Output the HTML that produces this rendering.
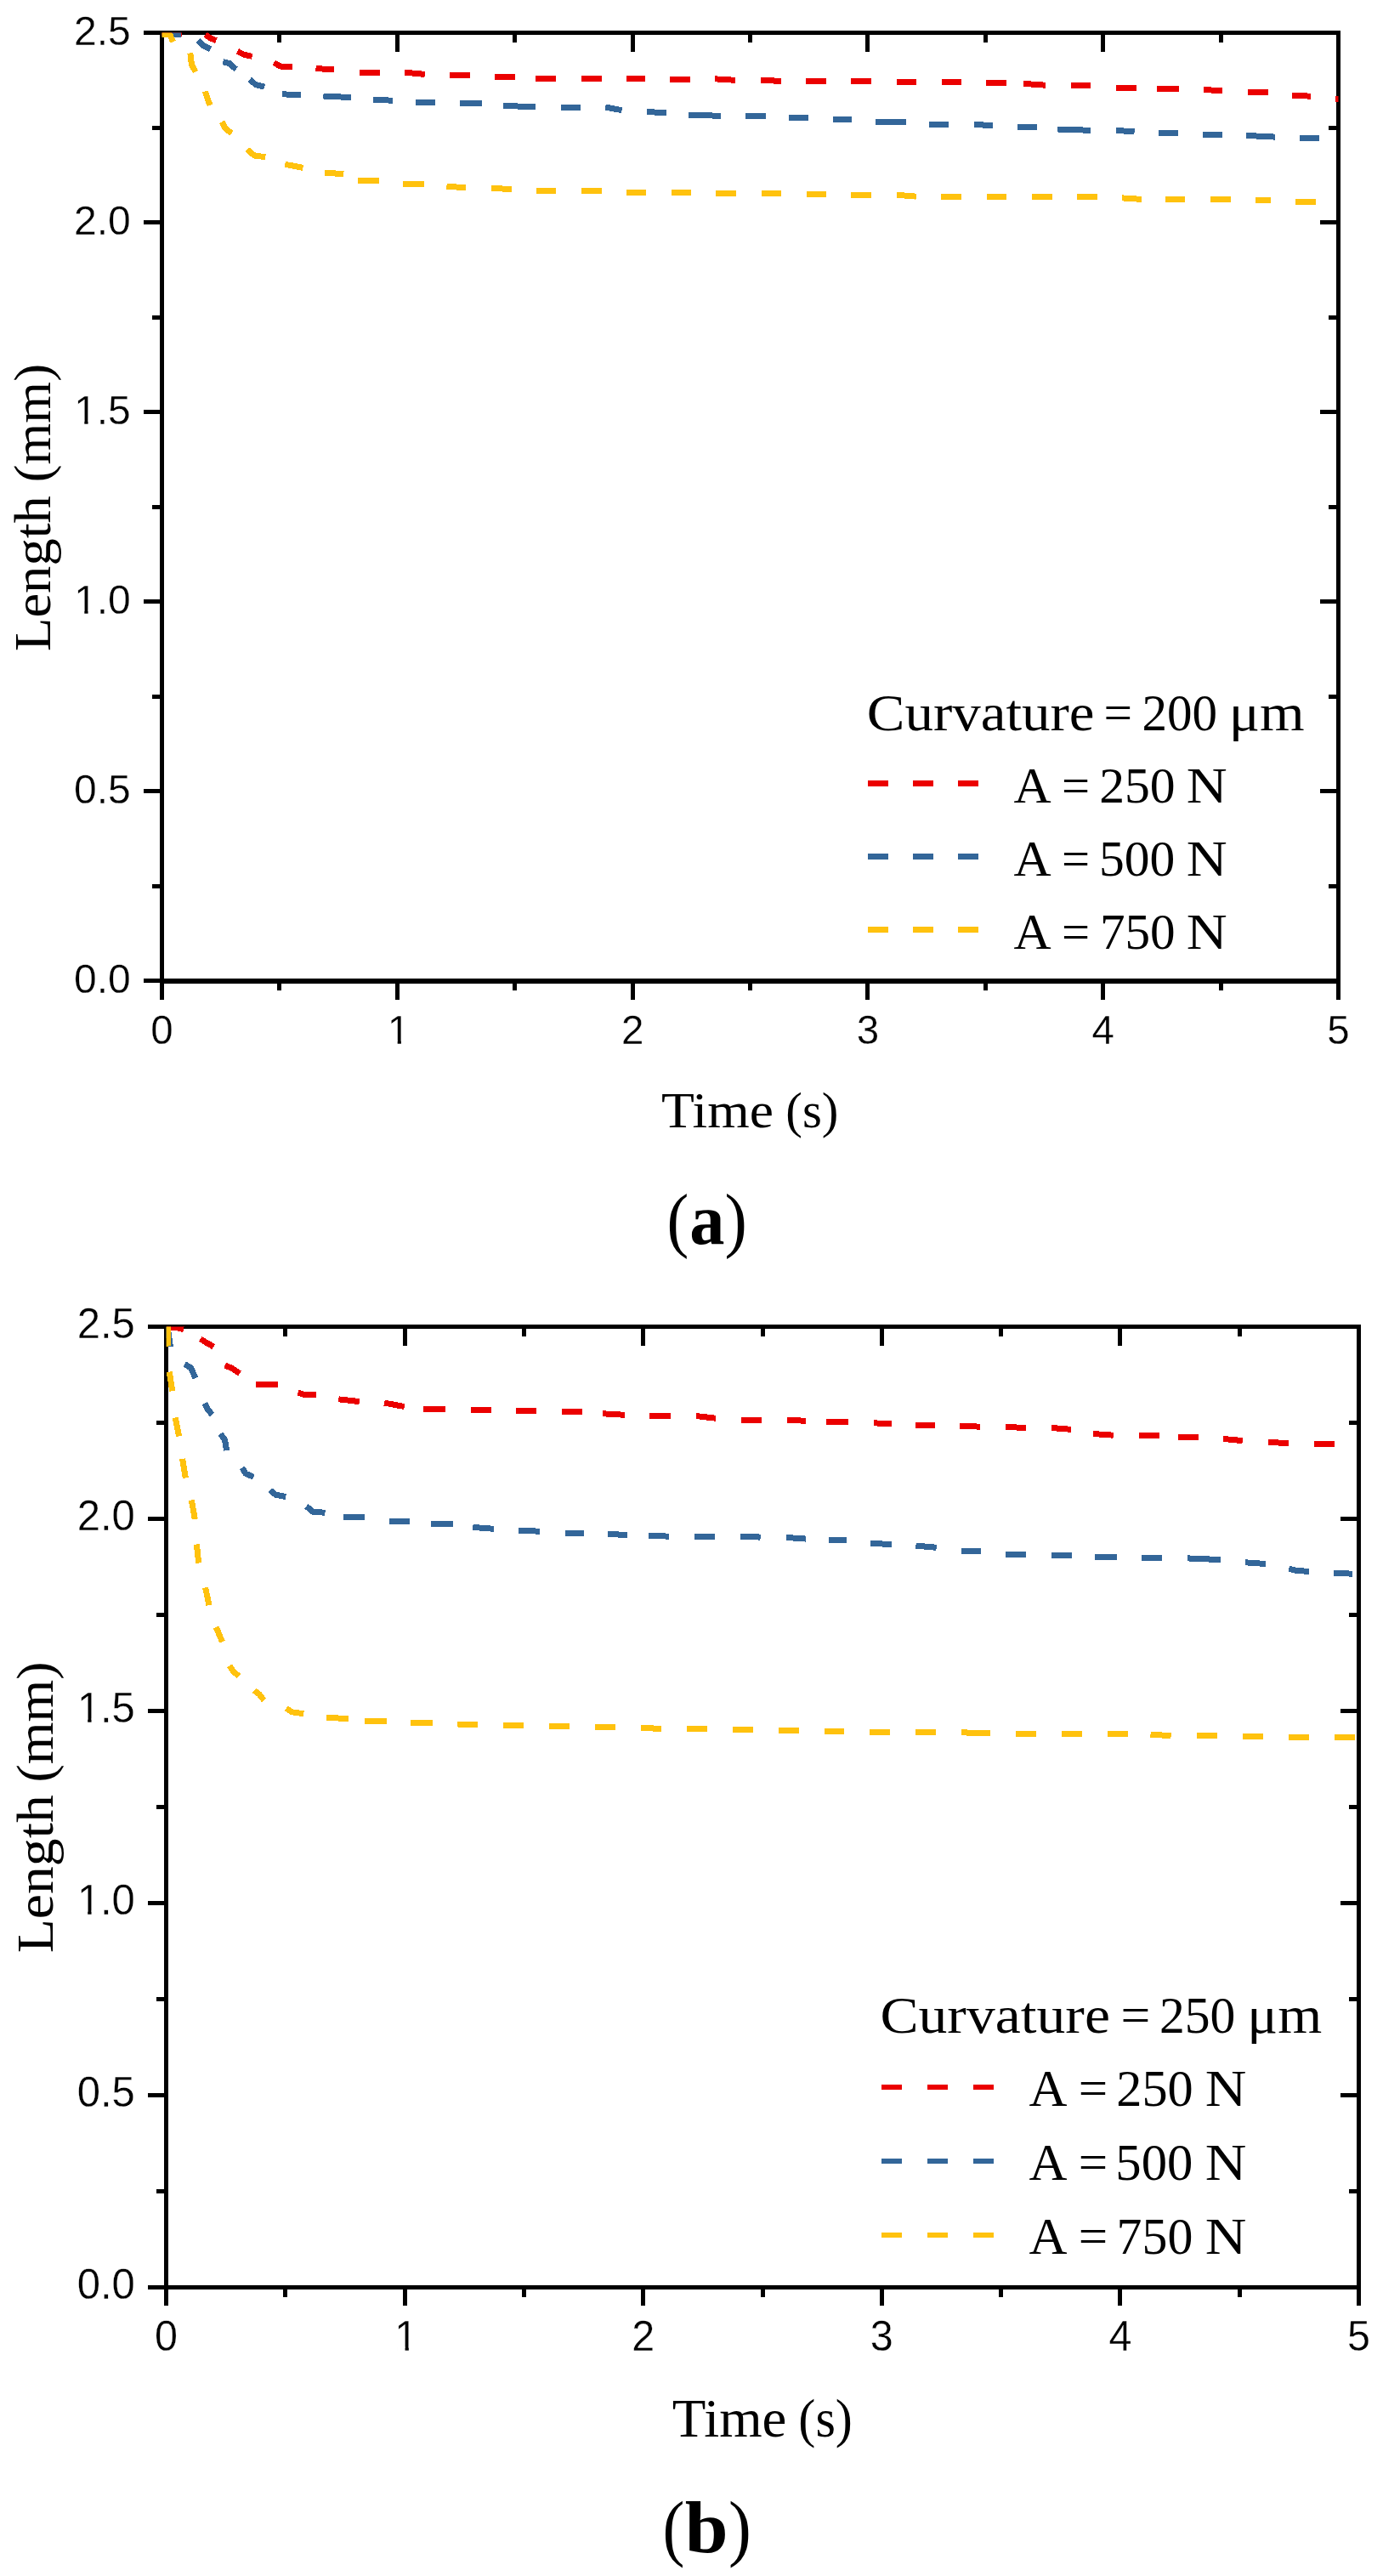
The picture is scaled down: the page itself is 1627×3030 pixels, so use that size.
<!DOCTYPE html>
<html><head><meta charset="utf-8"><title>Length vs Time</title>
<style>html,body{margin:0;padding:0;background:#fff;overflow:hidden;} svg{display:block;}</style>
</head><body>
<svg width="1627" height="3030" viewBox="0 0 1627 3030">
<rect width="100%" height="100%" fill="#fff"/>
<g shape-rendering="crispEdges"><path d="M168.5 1153.5 L190.5 1153.5 M1552.5 1153.5 L1574.5 1153.5 M179 1042 L190.5 1042 M1563 1042 L1574.5 1042 M168.5 930.5 L190.5 930.5 M1552.5 930.5 L1574.5 930.5 M179 819 L190.5 819 M1563 819 L1574.5 819 M168.5 707.5 L190.5 707.5 M1552.5 707.5 L1574.5 707.5 M179 596 L190.5 596 M1563 596 L1574.5 596 M168.5 484.5 L190.5 484.5 M1552.5 484.5 L1574.5 484.5 M179 373 L190.5 373 M1563 373 L1574.5 373 M168.5 261.5 L190.5 261.5 M1552.5 261.5 L1574.5 261.5 M179 150 L190.5 150 M1563 150 L1574.5 150 M168.5 38.5 L190.5 38.5 M1552.5 38.5 L1574.5 38.5 M190.5 1153.5 L190.5 1175.5 M190.5 38.5 L190.5 60.5 M328.9 1153.5 L328.9 1165 M328.9 38.5 L328.9 50 M467.3 1153.5 L467.3 1175.5 M467.3 38.5 L467.3 60.5 M605.7 1153.5 L605.7 1165 M605.7 38.5 L605.7 50 M744.1 1153.5 L744.1 1175.5 M744.1 38.5 L744.1 60.5 M882.5 1153.5 L882.5 1165 M882.5 38.5 L882.5 50 M1020.9 1153.5 L1020.9 1175.5 M1020.9 38.5 L1020.9 60.5 M1159.3 1153.5 L1159.3 1165 M1159.3 38.5 L1159.3 50 M1297.7 1153.5 L1297.7 1175.5 M1297.7 38.5 L1297.7 60.5 M1436.1 1153.5 L1436.1 1165 M1436.1 38.5 L1436.1 50 M1574.5 1153.5 L1574.5 1175.5 M1574.5 38.5 L1574.5 60.5" stroke="#000" stroke-width="5" fill="none" stroke-linecap="butt"/><path d="M188 36 H1577 V1157 H188 Z M193 41 V1151 H1572 V41 Z" fill="#000" fill-rule="evenodd"/></g>
<clipPath id="clipA"><rect x="190.5" y="38.5" width="1384" height="1115"/></clipPath>
<g shape-rendering="crispEdges" clip-path="url(#clipA)">
<path d="M190 38.5 L214 39.5 M241.7 40.4 L247.5 45 L254.4 47.6 M279.3 60.3 L286.8 64.1 L296.6 66.4 M322.3 73.7 L329.6 78 L343.7 78.4 M371.5 80.8 L392.9 81.4 M423.2 85.4 L446.9 85.4 M475.9 85.2 L499.8 87.4 M529.1 88.4 L552.9 88.4 M581.8 90.4 L605.6 90.4 M629.5 92.3 L653.8 92.3 M683.9 92.3 L707.8 92.3 M737 92.3 L758.7 92.3 M788 93.4 L811.9 93.4 M841 92.8 L864.8 94.3 M895.2 94.3 L919 95.4 M948.1 95.4 L972 95.4 M1001.2 95.2 L1024.6 95.2 M1055 96.3 L1077.8 96.3 M1108.2 96.3 L1130.9 96.3 M1160 97.4 L1183.9 97.4 M1204 98.4 L1230 100.2 M1260.2 100.2 L1283 100.2 M1313 103.4 L1337.1 103.4 M1361.2 104.3 L1387 104.3 M1416 105.3 L1437.9 107 M1468.1 108.3 L1492 108.3 M1520.2 112 L1541.9 113.2 M1570.6 116.4 L1574.8 116.4" stroke="#EB0000" stroke-width="7" fill="none" stroke-linecap="butt" stroke-linejoin="round"/>
<path d="M202.4 40.4 L213.1 40.4 M233 47.4 L239.4 53.7 L247.5 57.8 M262.3 72.8 L270 74.5 L277.6 81.5 M293.7 93.6 L300.7 99.4 L311.1 102.3 M332.2 110.7 L353.8 112 M380.4 113 L412.8 114.6 M439.2 117.3 L461.8 118.2 M488.9 120.8 L511.7 120.8 M541 121.6 L566.6 121.6 M592 124.2 L630 126 M660.3 126.4 L683.1 126.4 M712.1 126 L731.6 129.7 M761.3 131.4 L783.7 132.9 M810.2 135.5 L847.7 136.2 M877 136.4 L900.8 136.4 M928.4 138.8 L950.7 138.8 M980.2 140.7 L1001.9 140.7 M1030 143.3 L1065.9 143.3 M1093 146.2 L1115.7 146.2 M1146.1 146.2 L1167.8 147.9 M1197.1 149 L1219.9 149 M1244.4 152 L1283 153.3 M1313 153.3 L1334.6 155 M1362.9 156.7 L1385.8 156.7 M1415 158.2 L1437.9 158.2 M1466.2 159.4 L1499.8 161.1 M1529.3 162.8 L1551.7 162.8" stroke="#336699" stroke-width="7" fill="none" stroke-linecap="butt" stroke-linejoin="round"/>
<path d="M190.2 40.4 L200 41 L203.5 49.1 M223.8 62.4 L225.5 76.3 L230.1 84.4 M241.5 107.5 L243.9 115.5 L247 123.7 M261 143.3 L265.3 151.2 L272.5 156.8 M290.8 175.9 L299.5 183.1 L312.3 184.7 M335.3 193.4 L342 194.5 L356.5 197.4 M382.3 203 L404.3 204.8 M421.3 212.7 L445.6 212.7 M474.2 216.4 L498.7 216.4 M525.4 219.2 L547.9 220.8 M578.3 221.4 L601.7 222.5 M631 224.2 L653.8 224.2 M683.9 224.3 L707.8 224.3 M737 226 L759.8 226 M790.2 226.2 L812.8 226.6 M842.3 227.3 L865.9 227.3 M896.3 227.3 L919 227.3 M949 228 L972 228 M1001.2 229.2 L1024.6 229.2 M1055 229.2 L1077.8 231.2 M1107 231.8 L1130.9 231.8 M1161.3 231.8 L1183.9 231.8 M1214.2 231.8 L1237.7 231.8 M1267 231.9 L1290.9 231.9 M1320.1 232.9 L1342.8 234.4 M1371 234.4 L1393.9 234.4 M1424.1 234.9 L1447.7 234.9 M1477.2 235.4 L1494.9 235.4 M1523.9 237.3 L1547.8 237.3" stroke="#FFC20E" stroke-width="7" fill="none" stroke-linecap="butt" stroke-linejoin="round"/>
</g>
<g font-family="Liberation Sans, Arial, sans-serif" font-size="49"><g transform="translate(153.8 1168) scale(0.98 1)"><text x="-68.12" y="0" fill="#000" stroke="#fff" stroke-width="0.3">0.0</text></g><g transform="translate(153.8 945) scale(0.98 1)"><text x="-68.12" y="0" fill="#000" stroke="#fff" stroke-width="0.3">0.5</text></g><g transform="translate(153.8 722) scale(0.98 1)"><text x="-67.92" y="0" fill="#000" stroke="#fff" stroke-width="0.3">1</text><text x="-40.87" y="0" fill="#000" stroke="#fff" stroke-width="0.3">.0</text><rect x="-65.13" y="-4.26" width="9.53" height="5.06" fill="#fff"/><rect x="-51.26" y="-4.26" width="9.15" height="5.06" fill="#fff"/></g><g transform="translate(153.8 499) scale(0.98 1)"><text x="-67.92" y="0" fill="#000" stroke="#fff" stroke-width="0.3">1</text><text x="-40.87" y="0" fill="#000" stroke="#fff" stroke-width="0.3">.5</text><rect x="-65.13" y="-4.26" width="9.53" height="5.06" fill="#fff"/><rect x="-51.26" y="-4.26" width="9.15" height="5.06" fill="#fff"/></g><g transform="translate(153.8 276) scale(0.98 1)"><text x="-68.12" y="0" fill="#000" stroke="#fff" stroke-width="0.3">2.0</text></g><g transform="translate(153.8 53) scale(0.98 1)"><text x="-68.12" y="0" fill="#000" stroke="#fff" stroke-width="0.3">2.5</text></g><g transform="translate(190.5 1228) scale(0.97 1)"><text x="0" y="0" text-anchor="middle" fill="#000" stroke="#fff" stroke-width="0.3">0</text></g><g transform="translate(467.3 1228) scale(0.97 1)"><text x="1.7" y="0" text-anchor="middle" fill="#000" stroke="#fff" stroke-width="0.3">1</text><rect x="-9.14" y="-4.26" width="9.53" height="5.06" fill="#fff"/><rect x="4.73" y="-4.26" width="9.15" height="5.06" fill="#fff"/></g><g transform="translate(744.1 1228) scale(0.97 1)"><text x="0" y="0" text-anchor="middle" fill="#000" stroke="#fff" stroke-width="0.3">2</text></g><g transform="translate(1020.9 1228) scale(0.97 1)"><text x="0" y="0" text-anchor="middle" fill="#000" stroke="#fff" stroke-width="0.3">3</text></g><g transform="translate(1297.7 1228) scale(0.97 1)"><text x="0" y="0" text-anchor="middle" fill="#000" stroke="#fff" stroke-width="0.3">4</text></g><g transform="translate(1574.5 1228) scale(0.97 1)"><text x="0" y="0" text-anchor="middle" fill="#000" stroke="#fff" stroke-width="0.3">5</text></g></g>
<g font-family="Liberation Serif, Times New Roman, serif" fill="#000">
<text x="777.97" y="1325.8" font-size="60.2" textLength="132.1" lengthAdjust="spacingAndGlyphs">Time</text>
<text x="924.31" y="1325.8" font-size="60.2" textLength="62.18" lengthAdjust="spacingAndGlyphs">(s)</text>
<text transform="translate(59 0) rotate(-90)" x="-765.96" y="0" font-size="61.2" textLength="182.81" lengthAdjust="spacingAndGlyphs">Length</text>
<text transform="translate(59 0) rotate(-90)" x="-567.36" y="0" font-size="61.2" textLength="139.42" lengthAdjust="spacingAndGlyphs">(mm)</text>
<text x="1019.75" y="858.5" font-size="61" textLength="267.77" lengthAdjust="spacingAndGlyphs">Curvature</text>
<text x="1298.54" y="858.5" font-size="61" textLength="33.57" lengthAdjust="spacingAndGlyphs">=</text>
<text x="1343.4" y="858.5" font-size="61" textLength="88.65" lengthAdjust="spacingAndGlyphs">200</text>
<text x="1445.71" y="858.5" font-size="61" textLength="88.94" lengthAdjust="spacingAndGlyphs">μm</text>
<text x="1192.6" y="944.3" font-size="60" textLength="44.14" lengthAdjust="spacingAndGlyphs">A</text>
<text x="1248.98" y="944.3" font-size="60" textLength="33.09" lengthAdjust="spacingAndGlyphs">=</text>
<text x="1293.18" y="944.3" font-size="60" textLength="89.49" lengthAdjust="spacingAndGlyphs">250</text>
<text x="1395.79" y="944.3" font-size="60" textLength="47.94" lengthAdjust="spacingAndGlyphs">N</text>
<text x="1192.6" y="1030.1" font-size="60" textLength="44.14" lengthAdjust="spacingAndGlyphs">A</text>
<text x="1248.98" y="1030.1" font-size="60" textLength="33.09" lengthAdjust="spacingAndGlyphs">=</text>
<text x="1292.94" y="1030.1" font-size="60" textLength="89.33" lengthAdjust="spacingAndGlyphs">500</text>
<text x="1395.79" y="1030.1" font-size="60" textLength="47.94" lengthAdjust="spacingAndGlyphs">N</text>
<text x="1192.6" y="1116.2" font-size="60" textLength="44.14" lengthAdjust="spacingAndGlyphs">A</text>
<text x="1248.98" y="1116.2" font-size="60" textLength="33.09" lengthAdjust="spacingAndGlyphs">=</text>
<text x="1293.9" y="1116.2" font-size="60" textLength="88.75" lengthAdjust="spacingAndGlyphs">750</text>
<text x="1395.79" y="1116.2" font-size="60" textLength="47.94" lengthAdjust="spacingAndGlyphs">N</text>
<text x="784.4" y="1462.7" font-size="85" textLength="25.8" lengthAdjust="spacingAndGlyphs">(</text>
<text x="811.14" y="1462.7" font-size="85" textLength="41.2" lengthAdjust="spacingAndGlyphs" font-weight="bold">a</text>
<text x="852.55" y="1462.7" font-size="85" textLength="26.32" lengthAdjust="spacingAndGlyphs">)</text>
</g>
<path d="M1021 921.5 L1044.5 921.5 M1074 921.5 L1097.5 921.5 M1127 921.5 L1150.5 921.5" stroke="#EB0000" stroke-width="7" fill="none" shape-rendering="crispEdges"/>
<path d="M1021 1007.5 L1044.5 1007.5 M1074 1007.5 L1097.5 1007.5 M1127 1007.5 L1150.5 1007.5" stroke="#336699" stroke-width="7" fill="none" shape-rendering="crispEdges"/>
<path d="M1021 1093.5 L1044.5 1093.5 M1074 1093.5 L1097.5 1093.5 M1127 1093.5 L1150.5 1093.5" stroke="#FFC20E" stroke-width="7" fill="none" shape-rendering="crispEdges"/>
<g shape-rendering="crispEdges"><path d="M173.6 2690.4 L195.6 2690.4 M1576.5 2690.4 L1598.5 2690.4 M184.1 2577.41 L195.6 2577.41 M1587 2577.41 L1598.5 2577.41 M173.6 2464.42 L195.6 2464.42 M1576.5 2464.42 L1598.5 2464.42 M184.1 2351.43 L195.6 2351.43 M1587 2351.43 L1598.5 2351.43 M173.6 2238.44 L195.6 2238.44 M1576.5 2238.44 L1598.5 2238.44 M184.1 2125.45 L195.6 2125.45 M1587 2125.45 L1598.5 2125.45 M173.6 2012.46 L195.6 2012.46 M1576.5 2012.46 L1598.5 2012.46 M184.1 1899.47 L195.6 1899.47 M1587 1899.47 L1598.5 1899.47 M173.6 1786.48 L195.6 1786.48 M1576.5 1786.48 L1598.5 1786.48 M184.1 1673.49 L195.6 1673.49 M1587 1673.49 L1598.5 1673.49 M173.6 1560.5 L195.6 1560.5 M1576.5 1560.5 L1598.5 1560.5 M195.6 2690.4 L195.6 2712.4 M195.6 1560.5 L195.6 1582.5 M335.89 2690.4 L335.89 2701.9 M335.89 1560.5 L335.89 1572 M476.18 2690.4 L476.18 2712.4 M476.18 1560.5 L476.18 1582.5 M616.47 2690.4 L616.47 2701.9 M616.47 1560.5 L616.47 1572 M756.76 2690.4 L756.76 2712.4 M756.76 1560.5 L756.76 1582.5 M897.05 2690.4 L897.05 2701.9 M897.05 1560.5 L897.05 1572 M1037.34 2690.4 L1037.34 2712.4 M1037.34 1560.5 L1037.34 1582.5 M1177.63 2690.4 L1177.63 2701.9 M1177.63 1560.5 L1177.63 1572 M1317.92 2690.4 L1317.92 2712.4 M1317.92 1560.5 L1317.92 1582.5 M1458.21 2690.4 L1458.21 2701.9 M1458.21 1560.5 L1458.21 1572 M1598.5 2690.4 L1598.5 2712.4 M1598.5 1560.5 L1598.5 1582.5" stroke="#000" stroke-width="5" fill="none" stroke-linecap="butt"/><path d="M193.1 1558 H1601 V2692.9 H193.1 Z M198.1 1563 V2687.9 H1596 V1563 Z" fill="#000" fill-rule="evenodd"/></g>
<clipPath id="clipB"><rect x="195.6" y="1560.5" width="1402.9" height="1129.9"/></clipPath>
<g shape-rendering="crispEdges" clip-path="url(#clipB)">
<path d="M196 1561 L207 1561.5 L216 1563.5 M235.7 1574.9 L243.2 1579.5 L251.3 1584.1 M264.6 1606.1 L272.1 1609 L282 1615.4 M301.1 1628.4 L326.9 1628.4 M350.6 1638.2 L358.2 1640.4 L372.3 1640.4 M398.3 1645.8 L422.8 1648.6 M452.1 1650.1 L475.8 1654.5 M498.1 1657.7 L523.7 1657.7 M554.1 1658.2 L577.9 1658.2 M607.2 1659.1 L631 1659.1 M661.2 1660 L685 1660 M709.1 1662.8 L734.9 1664.3 M764.2 1665.4 L788.7 1665.4 M819.1 1665.6 L841.9 1668.2 M872.2 1670.4 L895.7 1670.4 M926 1670.2 L947.9 1671.3 M972.2 1672.8 L997.8 1672.8 M1028.2 1673.9 L1048.8 1674.5 M1077 1676 L1099.7 1676 M1129 1677.1 L1152.9 1678.2 M1183.2 1678.4 L1206.9 1679.5 M1237 1679.5 L1259.8 1681.3 M1285.8 1686.5 L1309.7 1688.2 M1340 1688.2 L1363.9 1688.2 M1386.2 1690.4 L1409.9 1690.4 M1438.9 1692.4 L1461.8 1694.6 M1492.1 1696.5 L1515.9 1697.5 M1545.9 1698.2 L1569.8 1698.9" stroke="#EB0000" stroke-width="7" fill="none" stroke-linecap="butt" stroke-linejoin="round"/>
<path d="M197 1561 L200.5 1584 M217.2 1604.4 L224.7 1609 L229.9 1621.1 M240.9 1650.6 L244.4 1657.6 L249.6 1664 M259.5 1686.5 L264.6 1693.9 L266.6 1706 M284.9 1726.3 L288.9 1733.2 L298.2 1737.3 M317.8 1752.9 L324.2 1758.1 L336.3 1760.5 M360.4 1771.7 L368 1778.2 L382.5 1779.3 M404.4 1784.3 L428.7 1784.3 M458 1789 L481.8 1789 M507.4 1792.3 L532.8 1792.3 M556.2 1796 L567.5 1797.5 L581 1798.2 M610.2 1800.1 L634.7 1801.2 M665.1 1803.1 L686.8 1803.1 M715 1804.4 L737.7 1805.5 M763.1 1806 L786.8 1807.2 M817.4 1807.5 L840.8 1807.5 M871.2 1807 L894.6 1808.1 M925.1 1808.4 L947.9 1810.1 M975.4 1811.2 L995.6 1811.2 M1024.3 1815.3 L1048.8 1816.6 M1077.4 1818.1 L1101.7 1820.3 M1130.5 1824.6 L1153.8 1824.6 M1183.2 1828.3 L1206.9 1828.3 M1237 1829.2 L1260.9 1829.2 M1287.5 1831.8 L1314 1831.8 M1343.3 1832.5 L1366.7 1832.5 M1397.1 1832.9 L1435.9 1834.6 M1465 1837.8 L1488.8 1839.5 M1516.3 1845 L1525 1847.5 L1539.7 1848.3 M1569.1 1850 L1590.8 1851.2" stroke="#336699" stroke-width="7" fill="none" stroke-linecap="butt" stroke-linejoin="round"/>
<path d="M197 1560 L198 1583.5 M199.3 1613.6 L202.7 1636.2 M206.2 1667.4 L210.6 1689.4 M214.6 1715.9 L218.3 1738.4 M225.3 1764.5 L229.3 1787 M231.4 1816.5 L233.7 1838.5 M241.6 1867.3 L246 1888.1 M254.2 1913.9 L261.5 1931.2 M270.1 1959.4 L274.5 1965.9 L281 1971.7 M299.1 1988.4 L304.8 1992.7 L310.6 2000 M336.7 2009.3 L343.2 2013.7 L357.3 2015.8 M384.1 2020.4 L409.7 2021.5 M429.2 2024.3 L454.6 2024.3 M483.2 2026.4 L508.8 2026.4 M538.1 2028 L562 2028.6 M591.9 2029.9 L615.8 2029.9 M646 2030.4 L669.8 2030.4 M700.2 2031.9 L723.6 2031.9 M754 2032.1 L777.9 2033.6 M808.2 2033.4 L831.7 2033.4 M862 2034.3 L885.9 2034.3 M916.2 2035.4 L939.9 2035.4 M970 2036.5 L992.8 2036.5 M1023.2 2037.8 L1046.6 2037.8 M1077 2037.8 L1100.8 2037.8 M1131.2 2037.8 L1164.6 2038.9 M1195.1 2039.3 L1219 2039.3 M1248.9 2039.3 L1272.8 2039.3 M1303.2 2039.3 L1326.6 2039.3 M1353.5 2040.4 L1377.6 2041.5 M1408.4 2041.5 L1431.6 2041.5 M1462.1 2042.4 L1485.9 2042.4 M1516 2043 L1539.9 2043 M1570.1 2043.4 L1593.7 2043.4" stroke="#FFC20E" stroke-width="7" fill="none" stroke-linecap="butt" stroke-linejoin="round"/>
</g>
<g font-family="Liberation Sans, Arial, sans-serif" font-size="50"><g transform="translate(158.8 2703.9) scale(0.98 1)"><text x="-69.51" y="0" fill="#000" stroke="#fff" stroke-width="0.3">0.0</text></g><g transform="translate(158.8 2477.92) scale(0.98 1)"><text x="-69.51" y="0" fill="#000" stroke="#fff" stroke-width="0.3">0.5</text></g><g transform="translate(158.8 2251.94) scale(0.98 1)"><text x="-69.31" y="0" fill="#000" stroke="#fff" stroke-width="0.3">1</text><text x="-41.7" y="0" fill="#000" stroke="#fff" stroke-width="0.3">.0</text><rect x="-66.44" y="-4.34" width="9.71" height="5.14" fill="#fff"/><rect x="-52.31" y="-4.34" width="9.32" height="5.14" fill="#fff"/></g><g transform="translate(158.8 2025.96) scale(0.98 1)"><text x="-69.31" y="0" fill="#000" stroke="#fff" stroke-width="0.3">1</text><text x="-41.7" y="0" fill="#000" stroke="#fff" stroke-width="0.3">.5</text><rect x="-66.44" y="-4.34" width="9.71" height="5.14" fill="#fff"/><rect x="-52.31" y="-4.34" width="9.32" height="5.14" fill="#fff"/></g><g transform="translate(158.8 1799.98) scale(0.98 1)"><text x="-69.51" y="0" fill="#000" stroke="#fff" stroke-width="0.3">2.0</text></g><g transform="translate(158.8 1574) scale(0.98 1)"><text x="-69.51" y="0" fill="#000" stroke="#fff" stroke-width="0.3">2.5</text></g><g transform="translate(195.6 2765) scale(0.97 1)"><text x="0" y="0" text-anchor="middle" fill="#000" stroke="#fff" stroke-width="0.3">0</text></g><g transform="translate(476.18 2765) scale(0.97 1)"><text x="1.7" y="0" text-anchor="middle" fill="#000" stroke="#fff" stroke-width="0.3">1</text><rect x="-9.34" y="-4.34" width="9.71" height="5.14" fill="#fff"/><rect x="4.79" y="-4.34" width="9.32" height="5.14" fill="#fff"/></g><g transform="translate(756.76 2765) scale(0.97 1)"><text x="0" y="0" text-anchor="middle" fill="#000" stroke="#fff" stroke-width="0.3">2</text></g><g transform="translate(1037.34 2765) scale(0.97 1)"><text x="0" y="0" text-anchor="middle" fill="#000" stroke="#fff" stroke-width="0.3">3</text></g><g transform="translate(1317.92 2765) scale(0.97 1)"><text x="0" y="0" text-anchor="middle" fill="#000" stroke="#fff" stroke-width="0.3">4</text></g><g transform="translate(1598.5 2765) scale(0.97 1)"><text x="0" y="0" text-anchor="middle" fill="#000" stroke="#fff" stroke-width="0.3">5</text></g></g>
<g font-family="Liberation Serif, Times New Roman, serif" fill="#000">
<text x="790.85" y="2865.5" font-size="62.4" textLength="134.56" lengthAdjust="spacingAndGlyphs">Time</text>
<text x="939.35" y="2865.5" font-size="62.4" textLength="63.6" lengthAdjust="spacingAndGlyphs">(s)</text>
<text transform="translate(62.1 0) rotate(-90)" x="-2297.39" y="0" font-size="62.3" textLength="186.16" lengthAdjust="spacingAndGlyphs">Length</text>
<text transform="translate(62.1 0) rotate(-90)" x="-2096.41" y="0" font-size="62.3" textLength="141.91" lengthAdjust="spacingAndGlyphs">(mm)</text>
<text x="1035.43" y="2390.5" font-size="61.5" textLength="270.52" lengthAdjust="spacingAndGlyphs">Curvature</text>
<text x="1318.53" y="2390.5" font-size="61.5" textLength="34.78" lengthAdjust="spacingAndGlyphs">=</text>
<text x="1363.88" y="2390.5" font-size="61.5" textLength="89.49" lengthAdjust="spacingAndGlyphs">250</text>
<text x="1467.38" y="2390.5" font-size="61.5" textLength="87.86" lengthAdjust="spacingAndGlyphs">μm</text>
<text x="1210.59" y="2477.1" font-size="61.3" textLength="44.96" lengthAdjust="spacingAndGlyphs">A</text>
<text x="1268.86" y="2477.1" font-size="61.3" textLength="34.42" lengthAdjust="spacingAndGlyphs">=</text>
<text x="1313.25" y="2477.1" font-size="61.3" textLength="90.55" lengthAdjust="spacingAndGlyphs">250</text>
<text x="1417.76" y="2477.1" font-size="61.3" textLength="48.69" lengthAdjust="spacingAndGlyphs">N</text>
<text x="1210.59" y="2564.2" font-size="61.3" textLength="44.96" lengthAdjust="spacingAndGlyphs">A</text>
<text x="1268.86" y="2564.2" font-size="61.3" textLength="34.42" lengthAdjust="spacingAndGlyphs">=</text>
<text x="1312.37" y="2564.2" font-size="61.3" textLength="91.04" lengthAdjust="spacingAndGlyphs">500</text>
<text x="1417.76" y="2564.2" font-size="61.3" textLength="48.69" lengthAdjust="spacingAndGlyphs">N</text>
<text x="1210.59" y="2650.8" font-size="61.3" textLength="44.96" lengthAdjust="spacingAndGlyphs">A</text>
<text x="1268.86" y="2650.8" font-size="61.3" textLength="34.42" lengthAdjust="spacingAndGlyphs">=</text>
<text x="1313.55" y="2650.8" font-size="61.3" textLength="89.83" lengthAdjust="spacingAndGlyphs">750</text>
<text x="1417.76" y="2650.8" font-size="61.3" textLength="48.69" lengthAdjust="spacingAndGlyphs">N</text>
<text x="779.48" y="3001.5" font-size="85.7" textLength="25.93" lengthAdjust="spacingAndGlyphs">(</text>
<text x="805.84" y="3001.5" font-size="85.7" textLength="50.87" lengthAdjust="spacingAndGlyphs" font-weight="bold">b</text>
<text x="857" y="3001.5" font-size="85.7" textLength="26.84" lengthAdjust="spacingAndGlyphs">)</text>
</g>
<path d="M1037 2455 L1061 2455 M1091 2455 L1115 2455 M1145 2455 L1169 2455" stroke="#EB0000" stroke-width="6" fill="none" shape-rendering="crispEdges"/>
<path d="M1037 2542 L1061 2542 M1091 2542 L1115 2542 M1145 2542 L1169 2542" stroke="#336699" stroke-width="6" fill="none" shape-rendering="crispEdges"/>
<path d="M1037 2629 L1061 2629 M1091 2629 L1115 2629 M1145 2629 L1169 2629" stroke="#FFC20E" stroke-width="6" fill="none" shape-rendering="crispEdges"/>
</svg>
</body></html>
